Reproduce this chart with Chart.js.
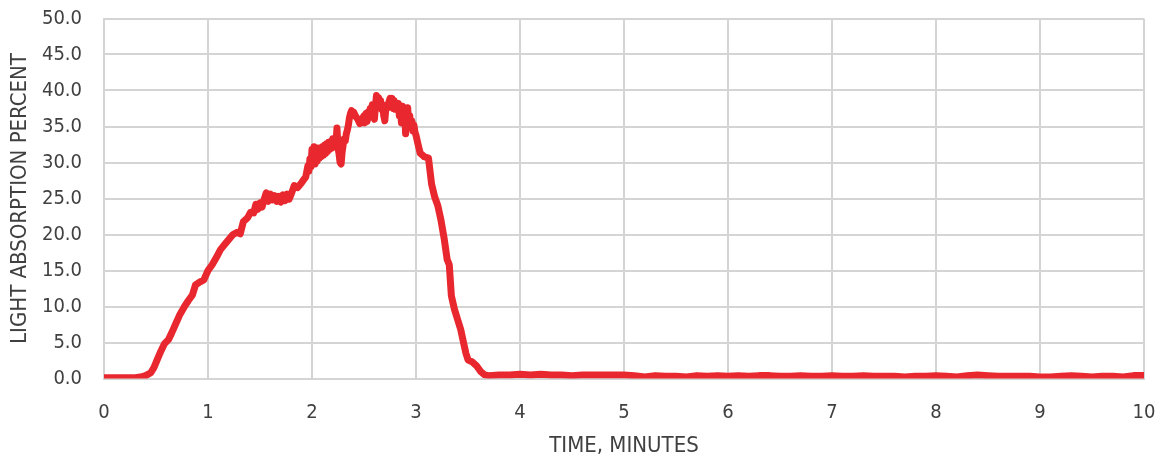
<!DOCTYPE html>
<html>
<head>
<meta charset="utf-8">
<script src="https://cdn.jsdelivr.net/npm/chart.js@4"></script>
<style>
html,body{margin:0;padding:0;background:#ffffff;}
#c{display:block;}
</style>
</head>
<body>
<canvas id="c" width="1162" height="462"></canvas>
<script>
const timeMinutes = [
  0, 0.1, 0.2, 0.3, 0.35, 0.4, 0.45, 0.48, 0.52, 0.55, 0.58, 0.62, 0.65, 0.69, 0.73, 0.77, 0.81, 0.85, 0.88, 0.92, 0.96,
  1.0, 1.04, 1.08, 1.12, 1.16, 1.2, 1.24, 1.28, 1.31, 1.34, 1.38, 1.41, 1.44, 1.46, 1.48, 1.5, 1.52, 1.54, 1.56, 1.58,
  1.6, 1.62, 1.64, 1.66, 1.68, 1.7, 1.72, 1.74, 1.76, 1.78, 1.8, 1.83, 1.86, 1.9, 1.94,
  1.96, 1.97, 1.98, 1.99, 2.0, 2.01, 2.02, 2.03, 2.04, 2.05, 2.06, 2.07, 2.08, 2.09, 2.1, 2.11, 2.12, 2.13, 2.14, 2.15,
  2.16, 2.17, 2.18, 2.19, 2.2, 2.21, 2.22, 2.23, 2.24, 2.25, 2.26, 2.27, 2.28, 2.29, 2.3, 2.31, 2.32, 2.33, 2.34, 2.35,
  2.36, 2.37, 2.38, 2.39, 2.4, 2.42, 2.44, 2.46, 2.48, 2.5, 2.51, 2.52, 2.53, 2.54, 2.55, 2.56, 2.57, 2.58, 2.59, 2.6,
  2.61, 2.62, 2.63, 2.64, 2.65, 2.66, 2.67, 2.68, 2.69, 2.7, 2.71, 2.72, 2.73, 2.74, 2.75, 2.76, 2.77, 2.78, 2.79, 2.8,
  2.81, 2.82, 2.83, 2.84, 2.85, 2.86, 2.87, 2.88, 2.89, 2.9, 2.91, 2.92, 2.93, 2.94, 2.95, 2.96, 2.97, 2.98, 2.99, 3.0,
  3.02, 3.04, 3.08, 3.12, 3.15, 3.18, 3.21, 3.24, 3.27, 3.3, 3.32, 3.34, 3.37, 3.4, 3.43, 3.46, 3.48, 3.5, 3.54, 3.58,
  3.62, 3.66,
  3.7, 3.8, 3.9, 4.0, 4.1, 4.2, 4.3, 4.4, 4.5, 4.6, 4.7, 4.8, 4.9, 5.0, 5.1, 5.2, 5.3, 5.4, 5.5, 5.6, 5.7, 5.8, 5.9,
  6.0, 6.1, 6.2, 6.3, 6.4, 6.5, 6.6, 6.7, 6.8, 6.9, 7.0, 7.1, 7.2, 7.3, 7.4, 7.5, 7.6, 7.7, 7.8, 7.9,
  8.0, 8.1, 8.2, 8.3, 8.4, 8.5, 8.6, 8.7, 8.8, 8.9, 9.0, 9.1, 9.2, 9.3, 9.4, 9.5, 9.6, 9.7, 9.8, 9.9, 10.0
];
const lightAbsorption = [
  0.1, 0.1, 0.1, 0.1, 0.2, 0.4, 0.8, 1.5, 2.9, 3.9, 4.8, 5.4, 6.3, 7.6, 8.9, 9.9, 10.8, 11.6, 13.0, 13.4, 13.7,
  15.0, 15.8, 16.8, 17.9, 18.6, 19.3, 20.0, 20.3, 20.1, 21.8, 22.3, 23.1, 23.0, 24.2, 23.5, 24.4, 23.8, 24.9, 25.8, 24.6,
  25.6, 24.8, 25.4, 24.6, 25.3, 24.5, 25.5, 24.7, 25.6, 24.9, 25.6, 26.8, 26.5, 27.2, 28.0,
  29.5, 28.8, 30.5, 29.4, 31.8, 30.0, 32.2, 29.8, 31.5, 30.2, 32.0, 30.6, 31.6, 30.8, 32.2, 31.0, 32.4, 31.2, 32.6, 31.5,
  32.8, 31.8, 32.9, 32.0, 33.3, 32.2, 33.0, 32.5, 34.8, 32.0, 31.2, 30.0, 29.8, 31.5, 32.5, 33.3, 33.0, 34.0, 34.5, 35.2,
  36.2, 36.8, 37.2, 36.9, 37.0, 36.4, 36.0, 35.4, 36.0, 36.5, 35.5, 36.8, 35.7, 37.0, 36.2, 37.5, 37.0, 38.0, 36.4, 36.0,
  37.8, 39.3, 38.8, 39.0, 38.2, 38.6, 37.4, 38.0, 36.5, 35.8, 37.5, 38.0, 37.6, 38.4, 38.9, 38.3, 38.9, 37.5, 38.6, 37.4,
  38.3, 37.6, 38.2, 36.5, 37.9, 35.5, 37.8, 36.2, 37.6, 34.0, 36.8, 37.6, 35.0, 36.5, 34.8, 35.8, 34.4, 35.2, 34.2, 33.8,
  32.5, 31.3, 30.8, 30.6, 27.0, 25.2, 24.0, 22.0, 19.5, 16.5, 15.8, 11.5, 9.6, 8.2, 6.8, 4.8, 3.5, 2.6, 2.3, 1.8,
  1.0, 0.5,
  0.4, 0.5, 0.5, 0.6, 0.5, 0.6, 0.5, 0.5, 0.4, 0.5, 0.5, 0.5, 0.5, 0.5, 0.4, 0.2, 0.4, 0.3, 0.3, 0.2, 0.4, 0.3, 0.4,
  0.3, 0.4, 0.3, 0.4, 0.4, 0.3, 0.3, 0.4, 0.3, 0.3, 0.4, 0.3, 0.3, 0.4, 0.3, 0.3, 0.3, 0.2, 0.3, 0.3,
  0.4, 0.3, 0.2, 0.4, 0.5, 0.4, 0.3, 0.3, 0.3, 0.3, 0.2, 0.2, 0.3, 0.4, 0.3, 0.2, 0.3, 0.3, 0.2, 0.4, 0.4
];
const yTickLabels = ['0.0','5.0','10.0','15.0','20.0','25.0','30.0','35.0','40.0','45.0','50.0'];
const xTickLabels = ['0','1','2','3','4','5','6','7','8','9','10'];
const xTitle = 'TIME, MINUTES';
const yTitle = 'LIGHT ABSORPTION PERCENT';

const points = timeMinutes.map((t, i) => ({x: t, y: lightAbsorption[i]}));
const gridColor = '#d4d4d4';
const textColor = '#404040';
const tickFont = {family: 'DejaVu Sans Condensed, DejaVu Sans', size: 20};
const titleFont = {family: 'DejaVu Sans Condensed, DejaVu Sans', size: 22};

new Chart(document.getElementById('c'), {
  type: 'line',
  data: {
    datasets: [{
      data: points,
      borderColor: '#e8282e',
      borderWidth: 7,
      pointRadius: 0,
      tension: 0,
      fill: false,
      borderCapStyle: 'round',
      borderJoinStyle: 'round'
    }]
  },
  options: {
    responsive: false,
    devicePixelRatio: 1,
    animation: false,
    layout: {padding: {top: 18.5, right: 18, left: 0, bottom: 0}},
    plugins: {legend: {display: false}, tooltip: {enabled: false}},
    scales: {
      x: {
        type: 'linear',
        min: 0, max: 10,
        afterFit: s => { s.height = 83.5; s.paddingLeft = 0; s.paddingRight = 0; },
        grid: {color: gridColor, lineWidth: 2, drawTicks: false},
        border: {color: gridColor, width: 2},
        ticks: {
          stepSize: 1, padding: 22, color: textColor, font: tickFont, maxRotation: 0,
          callback: (v) => xTickLabels[Math.round(v)]
        },
        title: {display: true, text: xTitle, color: textColor, font: titleFont, padding: {top: 0, bottom: 3}}
      },
      y: {
        min: 0, max: 50,
        afterFit: s => { s.width = 104; s.paddingTop = 0; s.paddingBottom = 0; },
        grid: {color: gridColor, lineWidth: 2, drawTicks: false},
        border: {color: gridColor, width: 2},
        ticks: {
          stepSize: 5, padding: 22, color: textColor, font: tickFont,
          callback: (v) => yTickLabels[Math.round(v / 5)]
        },
        title: {display: true, text: yTitle, color: textColor, font: titleFont, padding: {top: 7, bottom: 0}}
      }
    }
  }
});
</script>
</body>
</html>
